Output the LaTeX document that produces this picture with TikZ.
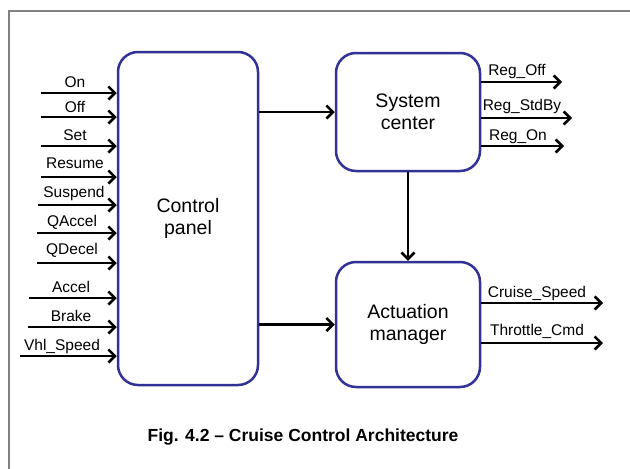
\documentclass[tikz,border=0pt]{standalone}
\usepackage{fontspec}
\setmainfont{Liberation Sans}
\usetikzlibrary{arrows.meta}
\definecolor{boxblue}{RGB}{50,50,150}
\definecolor{framegray}{RGB}{128,128,128}
\begin{document}
\begin{tikzpicture}[x=1pt,y=-1pt,
 blk/.style={draw=boxblue, line width=2.5pt, rounded corners=20pt, fill=white, align=center,
   font=\fontsize{19.5}{22.5}\selectfont, inner sep=0pt},
 arr/.style={line width=2.6pt, -{Straight Barb[length=6.5pt,width=13pt]}},
 lbl/.style={font=\fontsize{15.5}{17}\selectfont, inner sep=0pt, anchor=base},
 captext/.style={font=\fontsize{17.5}{19}\selectfont\bfseries, inner sep=0pt}]
\useasboundingbox (0,0) rectangle (630,469);
\draw[framegray, line width=2pt] (9,469) -- (9,11) -- (630,11);

\node[blk, minimum width=140pt, minimum height=333pt] (cp) at (188,218.5) {Control\\panel};
\node[blk, minimum width=144pt, minimum height=118pt] (sc) at (408,112) {System\\center};
\node[blk, minimum width=144pt, minimum height=125pt] (am) at (408,324.5) {Actuation\\manager};

% inputs
\coordinate (iOn) at (41,93);
\coordinate (iOff) at (41,117);
\coordinate (iSet) at (41,146);
\coordinate (iResume) at (41,177);
\coordinate (iSuspend) at (38,205);
\coordinate (iQAccel) at (37,233);
\coordinate (iQDecel) at (37,263);
\coordinate (iAccel) at (29,298);
\coordinate (iBrake) at (28,327);
\coordinate (iVhl) at (20,356);
\foreach \c in {iOn,iOff,iSet,iResume,iSuspend,iQAccel,iQDecel,iAccel,iBrake,iVhl}
  \draw[arr] (\c) -- (\c -| cp.west);

\node[lbl] (lOn) at (75,87) {On};
\node[lbl] (lOff) at (75,112) {Off};
\node[lbl] (lSet) at (75,140) {Set};
\node[lbl] (lResume) at (75,168) {Resume};
\node[lbl] (lSuspend) at (74,197) {Suspend};
\node[lbl] (lQAccel) at (72,226) {QAccel};
\node[lbl] (lQDecel) at (72,254) {QDecel};
\node[lbl] (lAccel) at (71,292) {Accel};
\node[lbl] (lBrake) at (71,321) {Brake};
\node[lbl] (lVhl) at (62,350) {Vhl\_Speed};

% internal connectors
\draw[arr] (cp.east |- sc.west) -- (sc.west);
\draw[arr] (cp.east |- am.west) -- (am.west);
\draw[arr] (sc.south) -- (am.north);

% outputs
\coordinate (oRegOff) at (562,82);
\coordinate (oRegStdBy) at (572,118);
\coordinate (oRegOn) at (564,146);
\coordinate (oCruise) at (603,303);
\coordinate (oThrottle) at (603,343);
\foreach \c in {oRegOff,oRegStdBy,oRegOn}
  \draw[arr] (\c -| sc.east) -- (\c);
\foreach \c in {oCruise,oThrottle}
  \draw[arr] (\c -| am.east) -- (\c);

\node[lbl] (lRegOff) at (517,75) {Reg\_Off};
\node[lbl] (lRegStdBy) at (522,110) {Reg\_StdBy};
\node[lbl] (lRegOn) at (518,140) {Reg\_On};
\node[lbl] (lCruise) at (537,297) {Cruise\_Speed};
\node[lbl] (lThrottle) at (537,335) {Throttle\_Cmd};

\node[captext] (caption) at (303,437) {Fig. 4.2 – Cruise Control Architecture};
\end{tikzpicture}
\end{document}
